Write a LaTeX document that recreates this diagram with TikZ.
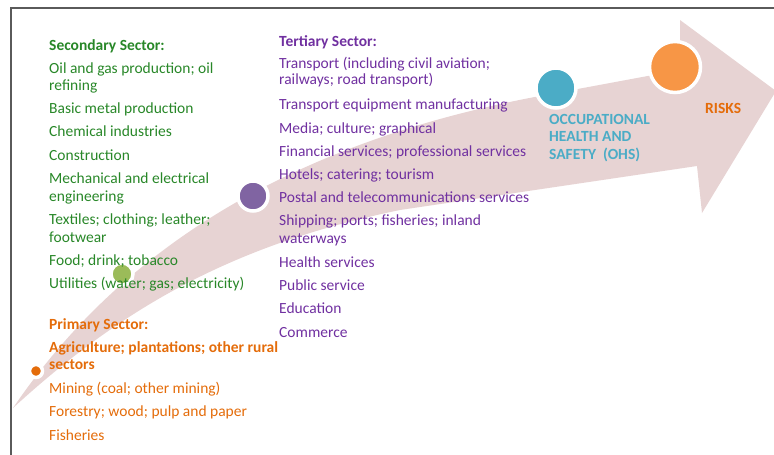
\documentclass[tikz,border=0pt]{standalone}
\usepackage{fontspec}
\setmainfont{Carlito}
\usetikzlibrary{positioning}

\definecolor{secgreen}{RGB}{40,135,40}
\definecolor{terpurple}{RGB}{112,48,160}
\definecolor{priorange}{RGB}{228,108,10}
\definecolor{ohsteal}{RGB}{75,172,198}
\definecolor{riskorange}{RGB}{247,150,70}
\definecolor{dotgreen}{RGB}{155,187,89}
\definecolor{dotpurple}{RGB}{128,100,162}
\definecolor{arrowpink}{RGB}{231,211,211}
\definecolor{framegray}{RGB}{90,90,90}

\tikzset{
	item/.style={anchor=mid west, inner sep=0pt, yshift=-3.5pt, font=\fontsize{15.5}{18}\selectfont},
	head/.style={item, font=\fontsize{15.5}{18}\selectfont\bfseries},
	dot/.style={circle, draw=white, line width=3.5pt, inner sep=0pt},
}

\begin{document}
\begin{tikzpicture}[x=1pt,y=-1pt]
	\useasboundingbox (0,0) rectangle (774,455);
	
	% big curved arrow
	\fill[arrowpink] (13,408) .. controls (100,280) and (250,150) .. (540,96) -- (680,70) -- (680,20) -- (776,91) -- (702,213) -- (697,166) -- (400,210) .. controls (230,245) and (120,310) .. (13,408) -- cycle;
	
	% frame
	\draw[framegray, line width=1.2pt] (11,455) -- (11,8) -- (774,8);
	
	% stages on the arrow
	\node[dot, fill=priorange, minimum size=13pt] (P) at (36,371) {};
	\node[dot, fill=dotgreen, minimum size=22pt] (S) at (122,274) {};
	\node[dot, fill=dotpurple, minimum size=30pt] (T) at (253,196) {};
	\node[dot, fill=ohsteal, minimum size=40pt] (O) at (556,88) {};
	\node[dot, fill=riskorange, minimum size=51pt] (R) at (675,67) {};
	
	% secondary sector
	\node[head, text=secgreen] (sechead) at (49,45) {Secondary Sector:};
	\foreach \y/\t [count=\i] in {68/Oil and gas production; oil, 85/refining, 108/Basic metal production, 131/Chemical industries, 155/Construction, 178/Mechanical and electrical, 196/engineering, 219/Textiles; clothing; leather;, 237/footwear, 260/Food; drink; tobacco, 283/Utilities (water; gas; electricity)}
		\node[item, text=secgreen] (sec\i) at (49,\y) {\t};
	
	% primary sector
	\node[head, text=priorange] (prihead) at (49,324) {Primary Sector:};
	\node[head, text=priorange] (pri1) at (49,347) {Agriculture; plantations; other rural};
	\node[head, text=priorange] (pri2) at (49,364) {sectors};
	\foreach \y/\t [count=\i from 3] in {388/Mining (coal; other mining), 411/Forestry; wood; pulp and paper, 435/Fisheries}
		\node[item, text=priorange] (pri\i) at (49,\y) {\t};
	
	% tertiary sector
	\node[head, text=terpurple] (terhead) at (279,41) {Tertiary Sector:};
	\foreach \y/\t [count=\i] in {63/Transport (including civil aviation;, 79/railways; road transport), 104/Transport equipment manufacturing, 128/Media; culture; graphical, 151/Financial services; professional services, 174/Hotels; catering; tourism, 197/Postal and telecommunications services, 220/Shipping; ports; fisheries; inland, 238/waterways, 262/Health services, 285/Public service, 308/Education, 332/Commerce}
		\node[item, text=terpurple] (ter\i) at (279,\y) {\t};
	
	% OHS and risks
	\foreach \y/\t [count=\i] in {119/OCCUPATIONAL, 136/HEALTH AND, 154/SAFETY~~(OHS)}
		\node[head, text=ohsteal] (ohs\i) at (549,\y) {\t};
	\node[head, text=priorange] (risks) at (705,108) {RISKS};
	
\end{tikzpicture}
\end{document}
